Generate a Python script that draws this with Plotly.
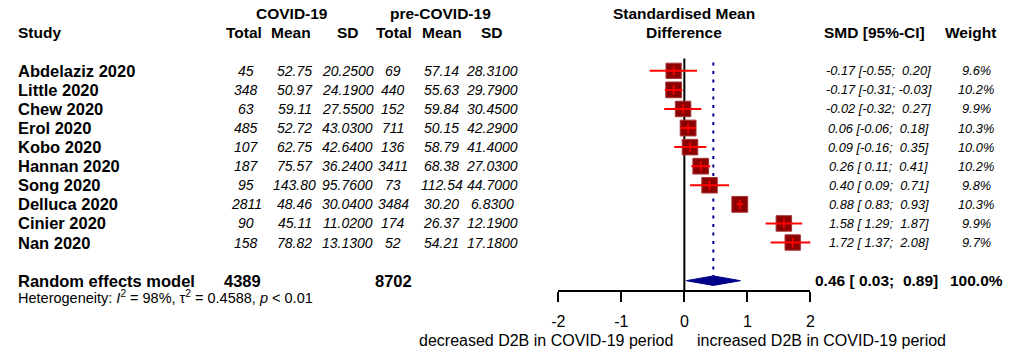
import plotly.graph_objects as go

# ---------------- data ----------------
studies = ["Abdelaziz 2020", "Little 2020", "Chew 2020", "Erol 2020", "Kobo 2020",
           "Hannan 2020", "Song 2020", "Delluca 2020", "Cinier 2020", "Nan 2020"]
covid_n = [45, 348, 63, 485, 107, 187, 95, 2811, 90, 158]
covid_mean = [52.75, 50.97, 59.11, 52.72, 62.75, 75.57, 143.80, 48.46, 45.11, 78.82]
covid_sd = [20.25, 24.19, 27.55, 43.03, 42.64, 36.24, 95.76, 30.04, 11.02, 13.13]
pre_n = [69, 440, 152, 711, 136, 3411, 73, 3484, 174, 52]
pre_mean = [57.14, 55.63, 59.84, 50.15, 58.79, 68.38, 112.54, 30.20, 26.37, 54.21]
pre_sd = [28.31, 29.79, 30.45, 42.29, 41.40, 27.03, 44.70, 6.83, 12.19, 17.18]
smd = [-0.17, -0.17, -0.02, 0.06, 0.09, 0.26, 0.40, 0.88, 1.58, 1.72]
ci_lo = [-0.55, -0.31, -0.32, -0.06, -0.16, 0.11, 0.09, 0.83, 1.29, 1.37]
ci_hi = [0.20, -0.03, 0.27, 0.18, 0.35, 0.41, 0.71, 0.93, 1.87, 2.08]
weight = [9.6, 10.2, 9.9, 10.3, 10.0, 10.2, 9.8, 10.3, 9.9, 9.7]

summary_label = "Random effects model"
summary_covid_n = 4389
summary_pre_n = 8702
summary_smd = 0.46
summary_lo = 0.03
summary_hi = 0.89
summary_weight = 100.0
heterogeneity = "Heterogeneity: <i>I</i><sup>2</sup> = 98%, \u03c4<sup>2</sup> = 0.4588, <i>p</i> &lt; 0.01"

x_ticks = [-2, -1, 0, 1, 2]
label_left = "decreased D2B in COVID-19 period"
label_right = "increased D2B in COVID-19 period"

# ---------------- geometry ----------------
W, H = 1009, 352
FONT = "Liberation Sans, Arial, sans-serif"
row0_px, row_h = 70.8, 19.08
axis_px = 290
rows = list(range(len(studies)))
sum_row = len(studies) + 1
y_top = (0 - row0_px) / row_h
y_bot = (axis_px - row0_px) / row_h
LEFT = 9


def px(x):
    return x / W


def py(y):
    return (H - y) / H


NB = "\u00a0"

fig = go.Figure()

# study squares (area ~ weight)
sizes = [15.8 * (w / max(weight)) ** 0.5 for w in weight]
fig.add_trace(go.Scatter(
    x=smd, y=rows, mode="markers",
    marker=dict(symbol="square", size=sizes, color="#8B0000", opacity=1,
                line=dict(color="#A83232", width=1)),
    hoverinfo="skip"))

# confidence intervals
cx, cy = [], []
for lo, hi, r in zip(ci_lo, ci_hi, rows):
    cx += [lo, hi, None]
    cy += [r, r, None]
fig.add_trace(go.Scatter(x=cx, y=cy, mode="lines",
                         line=dict(color="#FF0000", width=2), hoverinfo="skip"))

# centre ticks
fig.add_trace(go.Scatter(
    x=smd, y=rows, mode="markers",
    marker=dict(symbol="line-ns", size=7, line=dict(color="#FF0000", width=1.5)),
    hoverinfo="skip"))

# summary diamond
dh = 0.25
fig.add_trace(go.Scatter(
    x=[summary_lo, summary_smd, summary_hi, summary_smd, summary_lo],
    y=[sum_row, sum_row - dh, sum_row, sum_row + dh, sum_row],
    mode="lines", fill="toself", fillcolor="#00008B",
    line=dict(color="#00008B", width=1), hoverinfo="skip"))

# reference lines
fig.add_shape(type="line", x0=0, x1=0, y0=-0.64, y1=y_bot, xref="x", yref="y",
              line=dict(color="black", width=2), layer="below")
fig.add_shape(type="line", x0=summary_smd, x1=summary_smd, y0=-0.44, y1=sum_row - dh,
              xref="x", yref="y", line=dict(color="#00008B", width=2, dash="3px,5.5px"),
              layer="below")

annotations = []


def ann(text, x, y, yref="y", xanchor="center", size=14, color="black"):
    annotations.append(dict(text=text, x=px(x), y=y, xref="paper", yref=yref,
                            xanchor=xanchor, yanchor="middle", showarrow=False,
                            font=dict(family=FONT, size=size, color=color)))


# headers
HS = 15.5
ann("<b>COVID-19</b>", 288, -3, size=HS)
ann("<b>pre-COVID-19</b>", 439, -3, size=HS)
ann("<b>Standardised Mean</b>", 685, -3, size=HS)
ann("<b>Study</b>", LEFT, -2, xanchor="left", size=HS)
for t, xc in [("Total", 240), ("Mean", 287), ("SD", 345),
              ("Total", 392), ("Mean", 440), ("SD", 491)]:
    ann(f"<b>{t}</b>", xc, -2, size=HS)
ann("<b>Difference</b>", 685, -2, size=HS)
ann("<b>SMD [95%-CI]</b>", 878, -2, size=HS)
ann("<b>Weight</b>", 975, -2, size=HS)

# study rows
for i, r in enumerate(rows):
    ann(f"<b>{studies[i]}</b>", LEFT, r, xanchor="left", size=16.5)
    ann(f"<i>{covid_n[i]}</i>", 242, r)
    ann(f"<i>{covid_mean[i]:.2f}</i>", 291, r)
    ann(f"<i>{covid_sd[i]:.4f}</i>", 345, r)
    ann(f"<i>{pre_n[i]}</i>", 391, r)
    ann(f"<i>{pre_mean[i]:.2f}</i>", 440, r)
    ann(f"<i>{pre_sd[i]:.4f}</i>", 491, r)
    ci = f"{smd[i]:.2f} [{ci_lo[i]:5.2f}; {ci_hi[i]:5.2f}]".replace(" ", NB)
    ann(f"<i>{ci}</i>", 882, r, size=12.8)
    ann(f"<i>{weight[i]:.1f}%</i>", 981, r, size=12.8)

# summary row
ann(f"<b>{summary_label}</b>", LEFT, sum_row, xanchor="left", size=16.5)
ann(f"<b>{summary_covid_n}</b>", 238, sum_row, size=16.5)
ann(f"<b>{summary_pre_n}</b>", 391, sum_row, size=16.5)
sci = f"{summary_smd:.2f} [{summary_lo:5.2f}; {summary_hi:5.2f}]".replace(" ", NB)
ann(f"<b>{sci}</b>", 880, sum_row, size=15.5)
ann(f"<b>{summary_weight:.1f}%</b>", 981, sum_row, size=15.5)

ann(heterogeneity, LEFT, py(297), yref="paper", xanchor="left", size=14.5)

# axis direction labels
annotations.append(dict(text=label_left, x=px(676), y=py(340), xref="paper", yref="paper",
                        xanchor="right", yanchor="middle", showarrow=False,
                        font=dict(family=FONT, size=16, color="black")))
annotations.append(dict(text=label_right, x=px(696), y=py(340), xref="paper", yref="paper",
                        xanchor="left", yanchor="middle", showarrow=False,
                        font=dict(family=FONT, size=16, color="black")))

fig.update_layout(
    width=W, height=H, autosize=False,
    margin=dict(l=0, r=0, t=0, b=0, pad=0),
    paper_bgcolor="white", plot_bgcolor="white",
    showlegend=False,
    annotations=annotations,
    xaxis=dict(domain=[px(558), px(813)], range=[-2, 2], tickvals=x_ticks,
               ticktext=[str(v) for v in x_ticks],
               ticks="outside", ticklen=10, tickwidth=2, tickcolor="black",
               showline=True, linewidth=2, linecolor="black", ticklabelstandoff=6,
               showgrid=False, zeroline=False, anchor="y", fixedrange=True,
               tickfont=dict(family=FONT, size=16, color="black")),
    yaxis=dict(domain=[(H - axis_px) / H, 1], range=[y_bot, y_top], visible=False,
               showgrid=False, zeroline=False, fixedrange=True),
)

fig.write_html("out.html")
